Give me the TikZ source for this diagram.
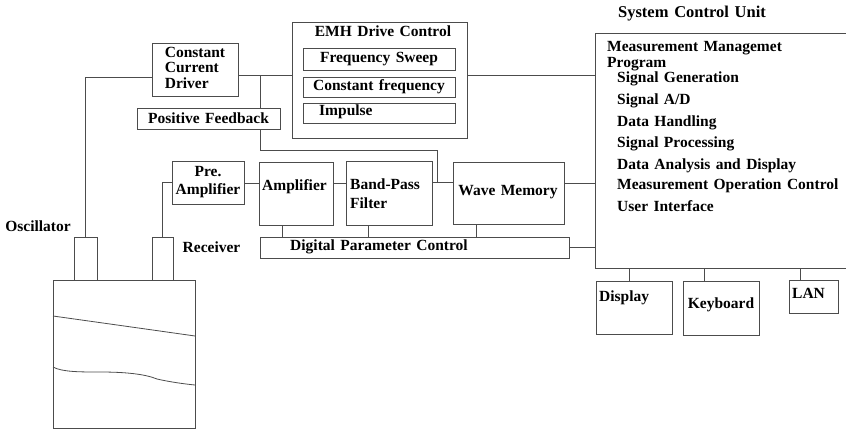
\documentclass[tikz,border=0pt]{standalone}
\usepackage{fontspec}
\setmainfont{Liberation Serif}[WordSpace=1.4]
\definecolor{linegray}{gray}{0.3}
\newcommand\lbl{\fontsize{15.5}{18}\selectfont\bfseries}
\begin{document}
\begin{tikzpicture}[x=1pt,y=-1pt,
  wire/.style={draw=linegray, line width=0.8pt},
  box/.style={draw=linegray, line width=0.8pt, inner sep=0pt, outer sep=0pt, font=\lbl},
  txt/.style={inner sep=0pt, font=\lbl, text height=0.7em, text depth=0.2em},
]
\useasboundingbox (0,0) rectangle (846,432);
\clip (0,0) rectangle (846,432);

% transducer side
\node[box, minimum width=142, minimum height=148] (sample) at (124,354) {};
\node[box, minimum width=23, minimum height=43] (osc) at (85.5,258.5) {};
\node[box, minimum width=21, minimum height=43] (rcv) at (162.5,258.5) {};
\node[txt] (osclbl) at (38,229) {Oscillator};
\node[txt] (rcvlbl) at (211.5,250) {Receiver};
\draw[wire] (53,316) .. controls (110,324) and (160,331) .. (195,336);
\draw[wire] (53,367) .. controls (62,372) and (80,372) .. (100,372)
  .. controls (125,372) and (145,374) .. (157,379)
  .. controls (170,382) and (185,384) .. (195,385);

% drive chain
\node[box, minimum width=86, minimum height=53, align=center,
      font=\fontsize{15.5}{15.5}\selectfont\bfseries] (ccd) at (195,69.5)
  {\begin{tabular}{@{}l@{}}Constant\\Current\\Driver\end{tabular}};
\node[box, minimum width=143, minimum height=21] (pf) at (208.5,118.5) {Positive Feedback};

\node[box, minimum width=175, minimum height=116] (emh) at (379.5,80) {};
\node[txt] (emhlbl) at (383,34) {EMH Drive Control};
\node[box, minimum width=152, minimum height=22] (fs) at (379,59) {Frequency Sweep};
\node[box, minimum width=152, minimum height=20] (cf) at (379,87) {Constant frequency};
\node[box, minimum width=152, minimum height=20] (imp) at (379,113) {};
\node[txt, anchor=west] (implbl) at (319,113) {Impulse};

% receive chain
\node[box, minimum width=72, minimum height=43, align=center,
      font=\fontsize{15.5}{18}\selectfont\bfseries] (pre) at (208,182.5) {Pre.\\Amplifier};
\node[box, minimum width=74, minimum height=63] (amp) at (296,193.5) {};
\node[txt, anchor=west] (amplbl) at (262,188) {Amplifier};
\node[box, minimum width=86, minimum height=64] (bpf) at (389,193) {};
\node[anchor=north west, inner sep=0pt, align=left,
      font=\fontsize{15.5}{19}\selectfont\bfseries] (bpflbl) at (350,179) {Band-Pass\\Filter};
\node[box, minimum width=111, minimum height=62] (wm) at (508.5,193) {};
\node[txt] (wmlbl) at (508,193) {Wave Memory};
\node[box, minimum width=309, minimum height=21] (dpc) at (414.5,247.5) {};
\node[txt, anchor=west] (dpclbl) at (290,248) {Digital Parameter Control};

% system control unit
\node[box, minimum width=275, minimum height=235] (scu) at (732.5,150.5) {};
\node[txt, font=\fontsize{16.5}{18}\selectfont\bfseries] (sculbl) at (692,15) {System Control Unit};
\node[txt, anchor=west] (p1) at (607,49) {Measurement Managemet};
\node[txt, anchor=west] (p2) at (607,65) {Program};
\node[txt, anchor=west] (p3) at (617,80) {Signal Generation};
\node[txt, anchor=west] (p4) at (617,102) {Signal A/D};
\node[txt, anchor=west] (p5) at (617,124) {Data Handling};
\node[txt, anchor=west] (p6) at (617,145) {Signal Processing};
\node[txt, anchor=west] (p7) at (617,167) {Data Analysis and Display};
\node[txt, anchor=west] (p8) at (617,187) {Measurement Operation Control};
\node[txt, anchor=west] (p9) at (617,209) {User Interface};

\node[box, minimum width=76, minimum height=53] (disp) at (634,307.5) {};
\node[txt, anchor=west] (displbl) at (599,299) {Display};
\node[box, minimum width=76, minimum height=54] (kb) at (721,308) {};
\node[txt] (kblbl) at (721,306) {Keyboard};
\node[box, minimum width=49, minimum height=33] (lan) at (813.5,296.5) {};
\node[txt, anchor=west] (lanlbl) at (792,296) {LAN};

% connectors
\coordinate (drv) at ([yshift=-5.5pt]ccd.east);
\coordinate (tap) at (260,75);
\coordinate (fb) at (437,150);
\coordinate (sig) at (0,183);
\coordinate (fbj) at (437,182);

\draw[wire] (osc.north) |- ([yshift=-7.5pt]ccd.west);
\draw[wire] (drv) -- (drv -| emh.west);
\draw[wire] (tap) -- (tap |- pf.north);
\draw[wire] (tap |- pf.south) -- (tap |- fb) -- (fb) -- (fbj);
\draw[wire] (rcv.north) |- (pre.west);
\draw[wire] (pre.east |- sig) -- (amp.west |- sig);
\draw[wire] (amp.east |- sig) -- (bpf.west |- sig);
\draw[wire] (bpf.east |- fbj) -- (wm.west |- fbj);
\draw[wire] (wm.east |- sig) -- (scu.west |- sig);
\draw[wire] ([yshift=5pt]emh.east) -- ([yshift=5pt]emh.east -| scu.west);
\draw[wire] ([xshift=-14pt]amp.south) -- ([xshift=-14pt]amp.south |- dpc.north);
\draw[wire] ([xshift=-21pt]bpf.south) -- ([xshift=-21pt]bpf.south |- dpc.north);
\draw[wire] ([xshift=-32.5pt]wm.south) -- ([xshift=-32.5pt]wm.south |- dpc.north);
\draw[wire] (dpc.east) -- (dpc.east -| scu.west);
\draw[wire] ([xshift=-5pt]disp.north) -- ([xshift=-5pt]disp.north |- scu.south);
\draw[wire] ([xshift=-17pt]kb.north) -- ([xshift=-17pt]kb.north |- scu.south);
\draw[wire] ([xshift=-13.5pt]lan.north) -- ([xshift=-13.5pt]lan.north |- scu.south);
\end{tikzpicture}
\end{document}
